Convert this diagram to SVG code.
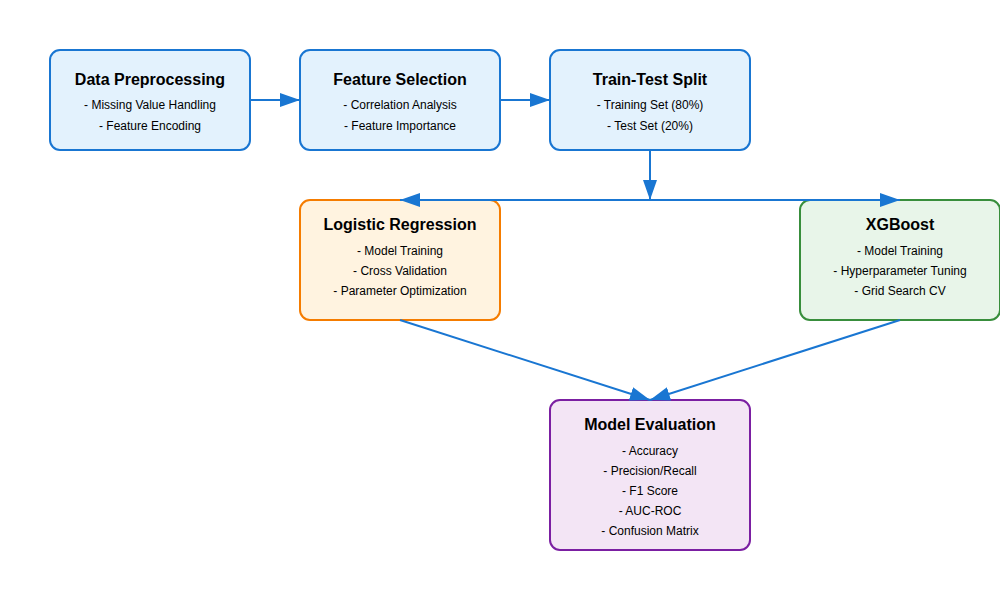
<svg xmlns="http://www.w3.org/2000/svg" width="1000" height="600" viewBox="0 0 1000 600">
<style>
.t{font-family:"Liberation Sans",Arial,sans-serif;font-size:16px;font-weight:bold;fill:#000;text-anchor:middle}
.i{font-family:"Liberation Sans",Arial,sans-serif;font-size:12px;fill:#000;text-anchor:middle}
.b{fill:#e3f2fd;stroke:#1976d2;stroke-width:2}
.o{fill:#fff3e0;stroke:#f57c00;stroke-width:2}
.g{fill:#e8f5e9;stroke:#388e3c;stroke-width:2}
.p{fill:#f3e5f5;stroke:#7b1fa2;stroke-width:2}
.c{stroke:#1976d2;stroke-width:2;fill:none;marker-end:url(#ah)}
</style>
<defs>
<marker id="ah" markerWidth="10" markerHeight="7" refX="10" refY="3.5" orient="auto">
<polygon points="0 0,10 3.5,0 7" fill="#1976d2"/>
</marker>
</defs>
<rect width="1000" height="600" fill="#fff"/>
<g id="data-preprocessing">
<rect class="b" x="50" y="50" width="200" height="100" rx="10"/>
<text class="t" x="150" y="85">Data Preprocessing</text>
<text class="i" x="150" y="109">- Missing Value Handling</text>
<text class="i" x="150" y="130">- Feature Encoding</text>
</g>
<g id="feature-selection">
<rect class="b" x="300" y="50" width="200" height="100" rx="10"/>
<text class="t" x="400" y="85">Feature Selection</text>
<text class="i" x="400" y="109">- Correlation Analysis</text>
<text class="i" x="400" y="130">- Feature Importance</text>
</g>
<g id="train-test-split">
<rect class="b" x="550" y="50" width="200" height="100" rx="10"/>
<text class="t" x="650" y="85">Train-Test Split</text>
<text class="i" x="650" y="109">- Training Set (80%)</text>
<text class="i" x="650" y="130">- Test Set (20%)</text>
</g>
<g id="logistic-regression">
<rect class="o" x="300" y="200" width="200" height="120" rx="10"/>
<text class="t" x="400" y="230">Logistic Regression</text>
<text class="i" x="400" y="255">- Model Training</text>
<text class="i" x="400" y="275">- Cross Validation</text>
<text class="i" x="400" y="295">- Parameter Optimization</text>
</g>
<g id="xgboost">
<rect class="g" x="800" y="200" width="200" height="120" rx="10"/>
<text class="t" x="900" y="230">XGBoost</text>
<text class="i" x="900" y="255">- Model Training</text>
<text class="i" x="900" y="275">- Hyperparameter Tuning</text>
<text class="i" x="900" y="295">- Grid Search CV</text>
</g>
<g id="model-evaluation">
<rect class="p" x="550" y="400" width="200" height="150" rx="10"/>
<text class="t" x="650" y="430">Model Evaluation</text>
<text class="i" x="650" y="455">- Accuracy</text>
<text class="i" x="650" y="475">- Precision/Recall</text>
<text class="i" x="650" y="495">- F1 Score</text>
<text class="i" x="650" y="515">- AUC-ROC</text>
<text class="i" x="650" y="535">- Confusion Matrix</text>
</g>
<g id="connectors">
<line class="c" x1="250" y1="100" x2="300" y2="100"/>
<line class="c" x1="500" y1="100" x2="550" y2="100"/>
<line class="c" x1="650" y1="150" x2="650" y2="200"/>
<line class="c" x1="650" y1="200" x2="400" y2="200"/>
<line class="c" x1="650" y1="200" x2="900" y2="200"/>
<line class="c" x1="400" y1="320" x2="650" y2="400"/>
<line class="c" x1="900" y1="320" x2="650" y2="400"/>
</g>
</svg>
